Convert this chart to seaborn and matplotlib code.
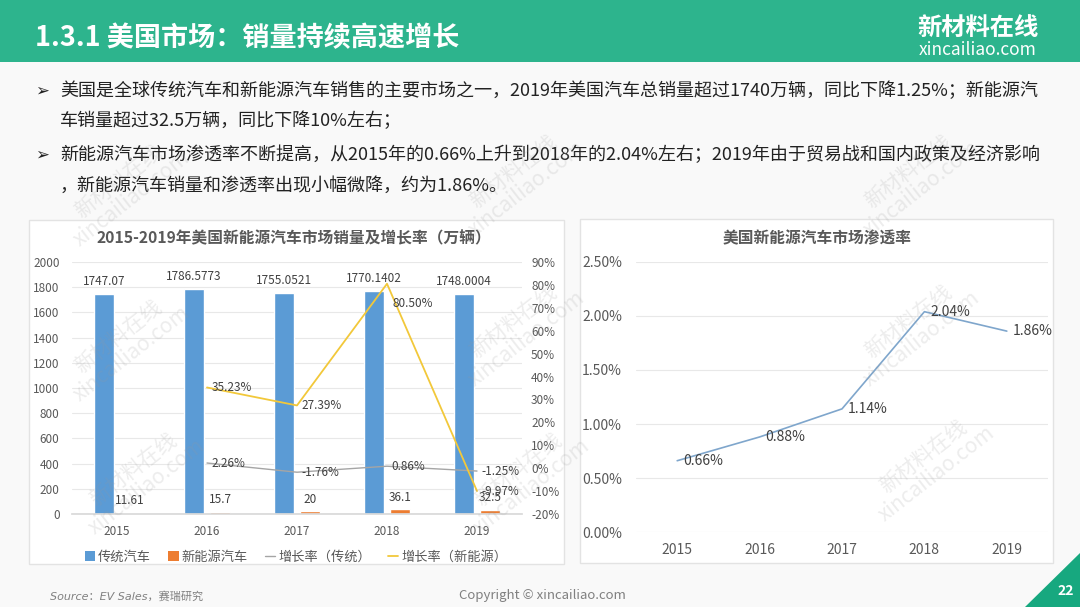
import numpy as np
import pandas as pd
import matplotlib
matplotlib.use("Agg")
import matplotlib.pyplot as plt
from matplotlib.patches import Rectangle, Polygon, Patch
from matplotlib.lines import Line2D
import seaborn as sns

# data
YEARS = ['2015', '2016', '2017', '2018', '2019']
ICE_SALES = [1747.07, 1786.5773, 1755.0521, 1770.1402, 1748.0004]
ICE_LABELS = ['1747.07', '1786.5773', '1755.0521', '1770.1402', '1748.0004']
NEV_SALES = [11.61, 15.7, 20, 36.1, 32.5]
NEV_LABELS = ['11.61', '15.7', '20', '36.1', '32.5']
GROWTH_YEARS = ['2016', '2017', '2018', '2019']
ICE_GROWTH = [2.26, -1.76, 0.86, -1.25]
NEV_GROWTH = [35.23, 27.39, 80.50, -9.97]
PENETRATION = [0.66, 0.88, 1.14, 2.04, 1.86]

BLUE = '#5B9BD5'
ORANGE = '#ED7D31'
GREY = '#A5A5A5'
YELLOW = '#F2C83A'
PEN_LINE = '#7FA6CC'
GREEN = '#2DB48D'
TXT = '#404040'

sns.set_theme(style='white')
plt.rcParams['font.family'] = ['Noto Sans CJK SC', 'DejaVu Sans']
plt.rcParams['axes.unicode_minus'] = False

W, H = 1080, 607
fig = plt.figure(figsize=(W / 100, H / 100), dpi=100)
fig.patch.set_facecolor('#F9F9F9')


def fx(px):
    return px / W


def fy(py):
    return 1 - py / H


# header band
fig.patches.append(Rectangle((0, fy(62)), 1, 62 / H, transform=fig.transFigure,
                             facecolor=GREEN, edgecolor='none', zorder=-2))
fig.text(fx(35), fy(38), '1.3.1 美国市场：销量持续高速增长', color='white',
         fontsize=19.5, fontweight='bold', va='center', ha='left')
fig.text(fx(978), fy(28), '新材料在线', color='white', fontsize=17.5,
         fontweight='bold', va='center', ha='center')
fig.text(fx(978), fy(50), 'xincailiao.com', color='white', fontsize=12.5,
         va='center', ha='center')

# bullet text
lines = [
    (91, True, '美国是全球传统汽车和新能源汽车销售的主要市场之一，2019年美国汽车总销量超过1740万辆，同比下降1.25%；新能源汽'),
    (121, False, '车销量超过32.5万辆，同比下降10%左右；'),
    (155, True, '新能源汽车市场渗透率不断提高，从2015年的0.66%上升到2018年的2.04%左右；2019年由于贸易战和国内政策及经济影响'),
    (186, False, '，新能源汽车销量和渗透率出现小幅微降，约为1.86%。'),
]
for y, bullet, s in lines:
    if bullet:
        fig.text(fx(35), fy(y), '➢', color='#222222', fontsize=12,
                 va='center', ha='left', family=['DejaVu Sans'])
    fig.text(fx(60), fy(y), s, color='#222222', fontsize=13,
             va='center', ha='left')

# chart panels
for x0, y0, x1, y1 in [(29, 220, 564, 564), (580, 219, 1053, 563)]:
    fig.patches.append(Rectangle((fx(x0), fy(y1)), fx(x1 - x0), (y1 - y0) / H,
                                 transform=fig.transFigure, facecolor='white',
                                 edgecolor='#E3E3E3', lw=1, zorder=-1))

# ---------- left chart: sales + growth ----------
ax = fig.add_axes([fx(72), fy(514), fx(450), 252 / H])
ax.set_facecolor('none')
sales = pd.DataFrame({
    'year': YEARS * 2,
    'sales': ICE_SALES + NEV_SALES,
    'kind': ['传统汽车'] * 5 + ['新能源汽车'] * 5,
})
sns.barplot(data=sales, x='year', y='sales', hue='kind',
            palette=[BLUE, ORANGE], saturation=1, width=0.58, gap=0.22,
            ax=ax, legend=False, zorder=2)
for cont, labs in zip(ax.containers, [ICE_LABELS, NEV_LABELS]):
    ax.bar_label(cont, labels=labs, padding=4, fontsize=8.5, color=TXT)
ax.set_ylim(0, 2000)
ax.set_xlim(-0.5, 4.5)
ax.set_yticks(np.arange(0, 2001, 200))
ax.grid(axis='y', color='#E8E8E8', lw=0.8, zorder=0)
ax.set_axisbelow(True)
ax.set_xlabel('')
ax.set_ylabel('')
ax.tick_params(axis='both', labelsize=8.5, colors='#595959', length=0)
ax.tick_params(axis='y', pad=9)
ax.tick_params(axis='x', pad=8)
sns.despine(ax=ax, left=True, bottom=False)
ax.spines['bottom'].set_color('#D9D9D9')

ax2 = ax.twinx()
ax2.set_ylim(-20, 90)
ax2.set_yticks(np.arange(-20, 91, 10))
ax2.set_yticklabels([f'{v}%' for v in range(-20, 91, 10)])
ax2.tick_params(axis='y', labelsize=8.5, colors='#595959', length=0, pad=6.5)
for s in ax2.spines.values():
    s.set_visible(False)
gx = [YEARS.index(y) for y in GROWTH_YEARS]
sns.lineplot(x=gx, y=ICE_GROWTH, color=GREY, lw=1, ax=ax2)
sns.lineplot(x=gx, y=NEV_GROWTH, color=YELLOW, lw=1.3, ax=ax2)
for x, v in zip(gx, ICE_GROWTH):
    ax2.annotate(f'{v:.2f}%', (x, v), xytext=(3, 0), textcoords='offset points',
                 fontsize=8.5, color=TXT, va='center', ha='left')
for x, v in zip(gx, NEV_GROWTH):
    off = (4, -14) if v > 70 else (3, 0)
    ax2.annotate(f'{v:.2f}%', (x, v), xytext=off, textcoords='offset points',
                 fontsize=8.5, color=TXT, va='center', ha='left')
ax2.set_xlim(-0.5, 4.5)

fig.text(fx(294), fy(238), '2015-2019年美国新能源汽车市场销量及增长率（万辆）',
         fontsize=11.3, fontweight='bold', color='#595959', ha='center', va='center')
handles = [
    Patch(facecolor=BLUE, edgecolor='none', label='传统汽车'),
    Patch(facecolor=ORANGE, edgecolor='none', label='新能源汽车'),
    Line2D([], [], color=GREY, lw=1, label='增长率（传统）'),
    Line2D([], [], color=YELLOW, lw=1.3, label='增长率（新能源）'),
]
fig.legend(handles=handles, loc='center', bbox_to_anchor=(fx(296), fy(557)),
           ncol=4, frameon=False, fontsize=9.5, handlelength=0.8, handleheight=0.8,
           handletextpad=0.2, columnspacing=1.3, labelcolor='#595959')

# ---------- right chart: penetration ----------
ax3 = fig.add_axes([fx(636), fy(532), fx(412), 270 / H])
ax3.set_facecolor('none')
sns.lineplot(x=YEARS, y=PENETRATION, color=PEN_LINE, lw=1.2, ax=ax3, sort=False)
for i, v in enumerate(PENETRATION):
    ax3.annotate(f'{v:.2f}%', (i, v), xytext=(4, 0), textcoords='offset points',
                 fontsize=10, color=TXT, va='center', ha='left')
ax3.set_ylim(0, 2.5)
ax3.set_xlim(-0.5, 4.5)
ax3.set_yticks(np.arange(0, 2.51, 0.5))
ax3.set_yticklabels([f'{v:.2f}%' for v in np.arange(0, 2.51, 0.5)])
ax3.grid(axis='y', color='#E8E8E8', lw=0.8)
ax3.set_axisbelow(True)
ax3.tick_params(axis='both', labelsize=10, colors='#595959', length=0, pad=8)
ax3.tick_params(axis='y', pad=10)
ax3.set_xlabel('')
ax3.set_ylabel('')
sns.despine(ax=ax3, left=True, bottom=True)
fig.text(fx(817), fy(238), '美国新能源汽车市场渗透率', fontsize=11.3,
         fontweight='bold', color='#595959', ha='center', va='center')

# watermarks
for cx, cy in [(125, 190), (520, 180), (915, 180), (125, 345), (520, 330),
               (915, 330), (140, 478), (525, 478), (930, 465)]:
    fig.text(fx(cx), fy(cy), '新材料在线\nxincailiao.com', fontsize=15,
             color='#9A9A9A', alpha=0.18, rotation=38, ha='center', va='center',
             linespacing=1.0, zorder=10)

# footer
fig.text(fx(50), fy(596), 'Source：EV Sales，赛瑞研究', fontsize=8,
         color='#808080', style='italic', va='center', ha='left',
         family=['DejaVu Sans', 'Noto Sans CJK SC'])
fig.text(fx(542), fy(596), 'Copyright © xincailiao.com', fontsize=9.5,
         color='#808080', va='center', ha='center')
fig.patches.append(Polygon([(fx(1025), 0), (1, 0), (1, fy(553))], closed=True,
                           transform=fig.transFigure, facecolor='#17A87F',
                           edgecolor='none'))
fig.text(fx(1066), fy(591), '22', color='white', fontsize=10,
         fontweight='bold', va='center', ha='center')

fig.savefig('out.png', dpi=100, facecolor=fig.get_facecolor())
